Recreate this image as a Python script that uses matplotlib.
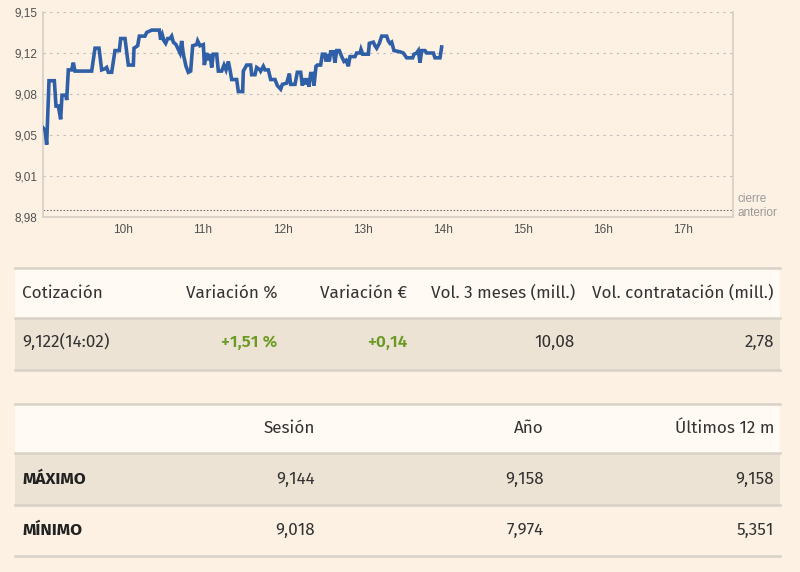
import matplotlib
matplotlib.use("Agg")
import matplotlib.pyplot as plt
from matplotlib.patches import Rectangle
from matplotlib.lines import Line2D

# --- datos intradía (minutos desde las 9:00, cotización) ---
minutos = [0, 1.5, 2.75, 4.5, 8.5, 9.75, 11.5, 13.25, 14.25, 17.25, 17.75, 19, 21.5, 22.75, 24,
           36.5, 39, 42, 44, 46.5, 47.75, 49, 51.5, 54, 57.25, 58.25, 61.5, 64, 67.75, 68.25,
           71, 72.25, 76.5, 77.75, 81.5, 87.25, 88.25, 89.5, 90.75, 92, 93.5, 95.25, 96.5,
           97.75, 99.75, 101.5, 102.75, 104, 105.25, 107.25, 109, 110.75, 112.25, 115.25, 116,
           117.75, 120.25, 121, 122.75, 124, 125.25, 126.5, 127.75, 130.25, 131.5, 134, 135.75,
           137.25, 139, 140.25, 141.5, 145.25, 146.5, 149.75, 150.25, 152.75, 155.75, 156.5,
           159, 160.25, 162.75, 163.25, 165.25, 166.5, 169, 170.75, 174, 175.75, 178.25, 179.5,
           182.75, 184.75, 185.75, 189, 190.75, 193.25, 194.5, 195.75, 197, 198.25, 199.5,
           200.75, 202.25, 203.25, 204.75, 205.75, 208.25, 209.5, 211.5, 212.25, 213.25,
           214.75, 215.75, 217.75, 219, 220.25, 222.25, 224, 225.75, 227.25, 229, 230.25, 234,
           235.25, 237.75, 238.5, 239.75, 244, 244.75, 247.75, 249, 250.25, 252.25, 254,
           257.75, 259, 260.25, 261.5, 263.25, 267.75, 270.25, 272.75, 277.25, 278.25, 280.25,
           281.5, 282.75, 284, 286.5, 287.75, 292.75, 294, 297.75, 299]
precios = [9.054, 9.052, 9.040, 9.093, 9.093, 9.072, 9.072, 9.061, 9.081, 9.081, 9.077, 9.102,
           9.102, 9.108, 9.101, 9.101, 9.120, 9.120, 9.102, 9.103, 9.104, 9.100, 9.100, 9.118,
           9.118, 9.128, 9.128, 9.106, 9.106, 9.120, 9.122, 9.130, 9.130, 9.133, 9.135, 9.135,
           9.127, 9.131, 9.126, 9.124, 9.128, 9.128, 9.130, 9.125, 9.123, 9.119, 9.116, 9.126,
           9.115, 9.105, 9.100, 9.101, 9.122, 9.123, 9.126, 9.122, 9.123, 9.106, 9.116, 9.110,
           9.115, 9.104, 9.115, 9.115, 9.101, 9.101, 9.106, 9.102, 9.109, 9.102, 9.094, 9.094,
           9.084, 9.084, 9.101, 9.106, 9.106, 9.098, 9.098, 9.104, 9.102, 9.101, 9.105, 9.102,
           9.102, 9.094, 9.094, 9.089, 9.086, 9.090, 9.091, 9.099, 9.090, 9.090, 9.100, 9.100,
           9.089, 9.095, 9.090, 9.095, 9.088, 9.099, 9.099, 9.089, 9.105, 9.106, 9.106, 9.115,
           9.115, 9.109, 9.115, 9.109, 9.117, 9.117, 9.108, 9.118, 9.118, 9.113, 9.109, 9.110,
           9.105, 9.113, 9.113, 9.116, 9.116, 9.119, 9.115, 9.115, 9.124, 9.125, 9.122, 9.120,
           9.124, 9.130, 9.130, 9.126, 9.124, 9.125, 9.118, 9.117, 9.116, 9.112, 9.112, 9.115,
           9.116, 9.118, 9.108, 9.118, 9.118, 9.116, 9.116, 9.112, 9.112, 9.121]
cierre_anterior = 8.986
y_ticks = [8.98, 9.014, 9.048, 9.082, 9.116, 9.15]
x_horas = [10, 11, 12, 13, 14, 15, 16, 17]

# --- tablas ---
cab1 = ["Cotización", "Variación %", "Variación €", "Vol. 3 meses (mill.)", "Vol. contratación (mill.)"]
fila1 = ["9,122(14:02)", "+1,51 %", "+0,14", "10,08", "2,78"]
cab2 = ["", "Sesión", "Año", "Últimos 12 m"]
filas2 = [["MÁXIMO", "9,144", "9,158", "9,158"],
          ["MÍNIMO", "9,018", "7,974", "5,351"]]

BG = "#fdf1e3"
W, H = 800, 572
FONT = ["Fira Sans", "Lato", "DejaVu Sans"]
ARIAL = ["Liberation Sans", "DejaVu Sans"]

fig = plt.figure(figsize=(W / 100, H / 100), dpi=100, facecolor=BG)


def fx(px):
    return px / W


def fy(py):
    return 1 - py / H


# gráfico
ax = fig.add_axes([fx(43), fy(217), fx(733) - fx(43), fy(12) - fy(217)])
ax.set_facecolor(BG)
ax.plot([9 + m / 60 for m in minutos], precios, color="#2f5fa7", lw=2.6,
        solid_joinstyle="miter", zorder=3)
ax.axhline(cierre_anterior, color="#777777", lw=0.8, ls=(0, (1.5, 1.5)), zorder=2)
for v in y_ticks[1:]:
    ax.axhline(v, color="#bbbbbb", lw=0.8, ls=(0, (2, 4)), zorder=1)
ax.set_xlim(9, 17.625)
ax.set_ylim(y_ticks[0], y_ticks[-1])
ax.set_yticks(y_ticks)
ax.set_yticklabels([f"{v:.2f}".replace(".", ",") for v in y_ticks])
ax.set_xticks(x_horas)
ax.set_xticklabels([f"{h}h" for h in x_horas])
ax.tick_params(length=0, labelsize=8.5, colors="#505050", pad=4)
for lab in ax.get_xticklabels() + ax.get_yticklabels():
    lab.set_family(ARIAL)
ax.tick_params(axis="x", pad=5)
for s in ["left", "bottom", "right"]:
    ax.spines[s].set_color("#d6cfc4")
    ax.spines[s].set_linewidth(1.2)
ax.spines["top"].set_visible(False)
fig.text(fx(738), fy(199), "cierre", fontsize=8.5, color="#999999", va="center", family=ARIAL)
fig.text(fx(738), fy(213), "anterior", fontsize=8.5, color="#999999", va="center", family=ARIAL)


def fila(top, bottom, color):
    fig.patches.append(Rectangle((fx(15), fy(bottom)), fx(780) - fx(15), fy(top) - fy(bottom),
                                 transform=fig.transFigure, facecolor=color, edgecolor="none"))


def linea(py):
    fig.lines.append(Line2D([fx(15), fx(780)], [fy(py), fy(py)], transform=fig.transFigure,
                            color="#d9d1c6", lw=1.8))


def texto(px, py, s, ha="right", color="#333333", weight="normal"):
    fig.text(fx(px), fy(py), s, ha=ha, va="center", fontsize=12.3, color=color,
             weight=weight, family=FONT)


# tabla 1
fila(268, 318, "#fffaf4")
fila(318, 370, "#ede3d5")
for p in [268, 318, 370]:
    linea(p)
der1 = [None, 277, 407, 575, 774]
for i, (c, v) in enumerate(zip(cab1, fila1)):
    verde = i in (1, 2)
    if i == 0:
        texto(22, 293, c, ha="left")
        texto(22, 342, v, ha="left")
    else:
        texto(der1[i], 293, c)
        texto(der1[i], 342, v, color="#6b9b22" if verde else "#333333",
              weight="semibold" if verde else "normal")

# tabla 2
fila(404, 453, "#fffaf4")
fila(453, 505, "#ede3d5")
for p in [404, 453, 505, 556]:
    linea(p)
der2 = [None, 315, 544, 774]
for i, c in enumerate(cab2):
    if c:
        texto(der2[i], 428, c)
for vals, yy in zip(filas2, [479, 530]):
    texto(22, yy, vals[0], ha="left", color="#222222", weight="bold")
    for i in range(1, 4):
        texto(der2[i], yy, vals[i])

fig.savefig("out.png", dpi=100, facecolor=BG)
